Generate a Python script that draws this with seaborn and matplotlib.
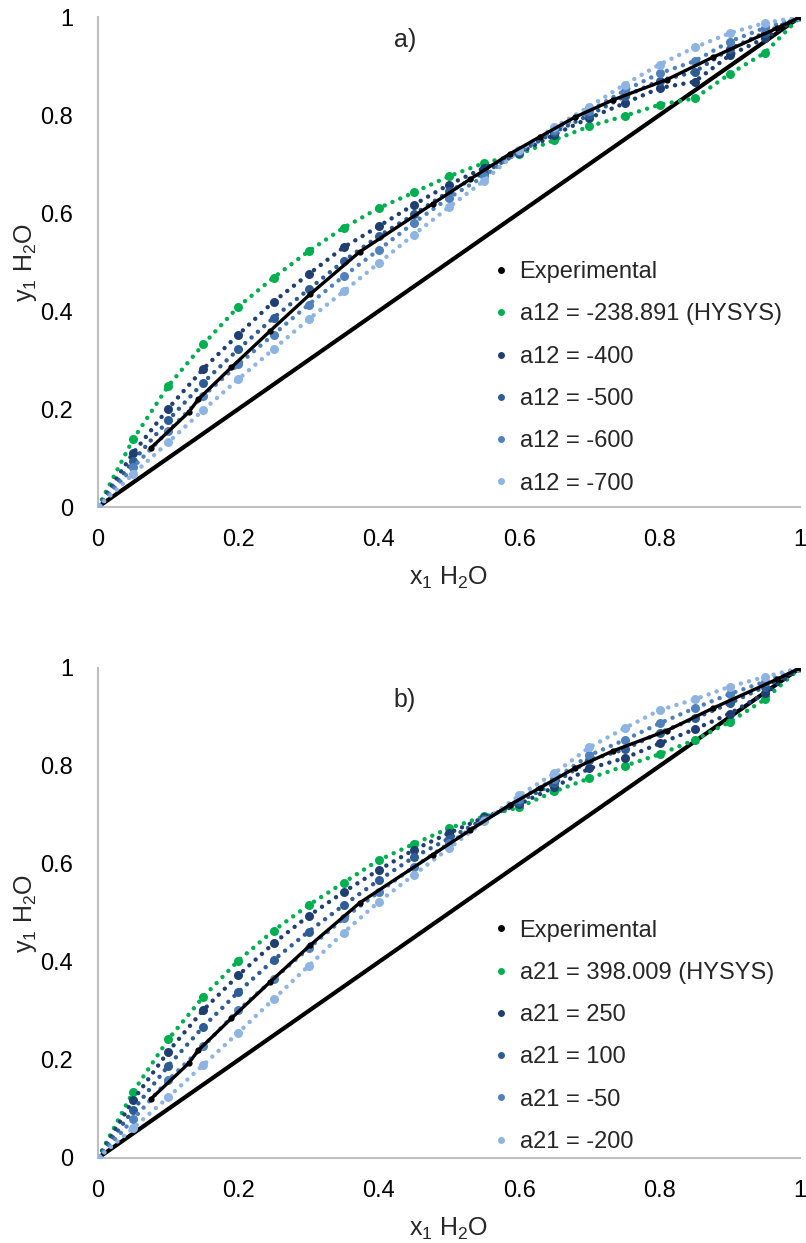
import numpy as np
import pandas as pd
import matplotlib
matplotlib.use("Agg")
import matplotlib.pyplot as plt
from matplotlib.lines import Line2D
import seaborn as sns

# ---------------- data ----------------
x_model = [0, .05, .1, .15, .2, .25, .3, .35, .4, .45, .5, .55, .6, .65, .7, .75, .8, .85, .9, .95, 1]

x_exp = [0.075, 0.129, 0.143, 0.19, 0.245, 0.302, 0.373, 0.477, 0.53, 0.587, 0.63, 0.68, 0.734, 0.81, 0.876, 0.967, 1.0]
y_exp = [0.12, 0.193, 0.22, 0.285, 0.359, 0.434, 0.521, 0.619, 0.669, 0.721, 0.756, 0.796, 0.831, 0.872, 0.918, 0.977, 1.0]

diag = [0, 1]

labels_a = ["a12 = -238.891 (HYSYS)", "a12 = -400", "a12 = -500", "a12 = -600", "a12 = -700"]
y_a_hysys = [0, .138, .247, .332, .409, .468, .522, .570, .610, .642, .675, .702, .720, .749, .777, .798, .821, .834, .884, .927, 1]
y_a_400 = [0, .110, .201, .282, .352, .419, .475, .530, .573, .617, .658, .692, .722, .760, .794, .824, .855, .868, .922, .957, 1]
y_a_500 = [0, .094, .177, .254, .322, .386, .444, .502, .553, .597, .644, .682, .724, .765, .800, .838, .870, .888, .935, .968, 1]
y_a_600 = [0, .081, .155, .227, .291, .352, .413, .471, .525, .580, .631, .675, .726, .770, .808, .850, .885, .910, .950, .978, 1]
y_a_700 = [0, .067, .132, .198, .261, .322, .383, .440, .498, .556, .612, .666, .728, .775, .817, .862, .903, .938, .967, .988, 1]

labels_b = ["a21 = 398.009 (HYSYS)", "a21 = 250", "a21 = 100", "a21 = -50", "a21 = -200"]
y_b_hysys = [0, .135, .242, .329, .403, .464, .516, .562, .608, .641, .673, .697, .716, .748, .775, .800, .824, .853, .890, .936, 1]
y_b_250 = [0, .118, .217, .302, .373, .438, .494, .543, .588, .629, .663, .695, .722, .757, .795, .816, .846, .875, .907, .948, 1]
y_b_100 = [0, .098, .188, .268, .339, .404, .462, .516, .567, .614, .652, .692, .727, .765, .812, .834, .868, .897, .928, .962, 1]
y_b_m50 = [0, .079, .159, .228, .302, .365, .428, .489, .543, .594, .642, .689, .732, .773, .822, .853, .887, .918, .947, .972, 1]
y_b_m200 = [0, .061, .124, .190, .256, .324, .392, .460, .523, .578, .632, .687, .740, .785, .838, .877, .914, .936, .962, .982, 1]

colors = ["#00B050", "#1F3F73", "#2E5C96", "#4F81BD", "#8DB4E2"]

# ---------------- style ----------------
sns.set_theme(style="white")
plt.rcParams["font.family"] = ["Liberation Sans", "DejaVu Sans"]
plt.rcParams["mathtext.fontset"] = "custom"
plt.rcParams["mathtext.rm"] = "Liberation Sans"
plt.rcParams["mathtext.it"] = "Liberation Sans"

FS = 17

fig = plt.figure(figsize=(8.06, 12.43), dpi=100)
ax_a = fig.add_axes([98 / 806, 1 - 507 / 1243, 702 / 806, 490 / 1243])
ax_b = fig.add_axes([98 / 806, 1 - 1158 / 1243, 702 / 806, 490 / 1243])


def draw(ax, series, labels, tag, tag_y, leg_y):
    ax.set_xlim(0, 1)
    ax.set_ylim(0, 1)
    # diagonal
    sns.lineplot(x=diag, y=diag, ax=ax, color="black", linewidth=3.0, zorder=2,
                 legend=False, solid_capstyle="butt")
    # model series (dotted with markers)
    for ys, c in zip(series, colors):
        sns.lineplot(x=x_model, y=ys, ax=ax, color=c, linewidth=3.2,
                     linestyle=(0, (0.01, 1.9)), dash_capstyle="round",
                     marker="o", markersize=6.5, markeredgewidth=0,
                     legend=False, zorder=3, sort=False)
    # experimental
    sns.lineplot(x=x_exp, y=y_exp, ax=ax, color="black", linewidth=2.4,
                 marker="o", markersize=4.5, markeredgewidth=0, legend=False,
                 zorder=4, sort=False)

    for s in ["top", "right"]:
        ax.spines[s].set_visible(False)
    for s in ["left", "bottom"]:
        ax.spines[s].set_color("#BFBFBF")
        ax.spines[s].set_linewidth(1.5)
    ticks = [0, 0.2, 0.4, 0.6, 0.8, 1]
    ticklabels = ["0", "0.2", "0.4", "0.6", "0.8", "1"]
    ax.set_xticks(ticks)
    ax.set_xticklabels(ticklabels)
    ax.set_yticks(ticks)
    ax.set_yticklabels(ticklabels)
    ax.tick_params(axis="x", length=0, labelsize=FS, colors="#000000", pad=16)
    ax.tick_params(axis="y", length=0, labelsize=FS, colors="#000000", pad=18)
    ax.set_xlabel(r"x$_1$ H$_2$O", fontsize=FS + 1, labelpad=10)
    ax.set_ylabel(r"y$_1$ H$_2$O", fontsize=FS + 1, labelpad=1)
    ax.text(0.437, tag_y, tag, fontsize=FS + 1, ha="center", va="center", transform=ax.transAxes)

    handles = [Line2D([], [], ls="", marker="o", markersize=5, color="black",
                      markeredgewidth=0)]
    handles += [Line2D([], [], ls="", marker="o", markersize=5, color=c,
                       markeredgewidth=0) for c in colors]
    ax.legend(handles, ["Experimental"] + labels, loc="upper left",
              bbox_to_anchor=(0.55, leg_y), frameon=False, fontsize=FS,
              handlelength=0.6, handletextpad=0.5, labelspacing=0.86,
              borderaxespad=0)


draw(ax_a, [y_a_hysys, y_a_400, y_a_500, y_a_600, y_a_700], labels_a, "a)", 0.953, 0.521)
draw(ax_b, [y_b_hysys, y_b_250, y_b_100, y_b_m50, y_b_m200], labels_b, "b)", 0.935, 0.506)

fig.savefig("out.png", dpi=100)
